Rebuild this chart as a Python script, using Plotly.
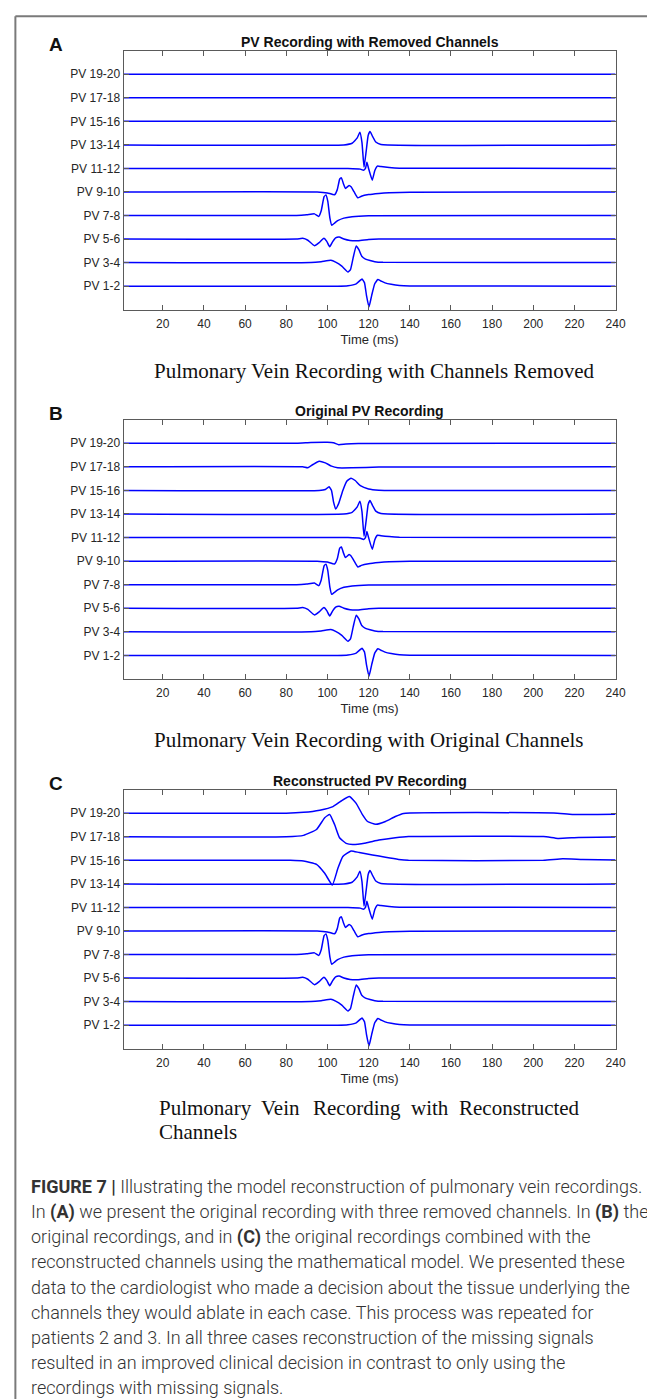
import plotly.graph_objects as go

# ---------------- data ----------------
CHANNELS = ["PV 1-2", "PV 3-4", "PV 5-6", "PV 7-8", "PV 9-10",
            "PV 11-12", "PV 13-14", "PV 15-16", "PV 17-18", "PV 19-20"]
X_TICKS = [20, 40, 60, 80, 100, 120, 140, 160, 180, 200, 220, 240]
PANEL_TITLES = ["PV Recording with Removed Channels",
                "Original PV Recording",
                "Reconstructed PV Recording"]
PANEL_LETTERS = ["A", "B", "C"]

# channels shared by all three panels: time (ms) and amplitude
pv12_t = [1, 105, 110, 114, 116.8, 118, 119, 120.2, 121.5, 123, 124.5, 126, 128, 131, 135, 140, 240]
pv12_a = [0, 0, 0.02, 0.1, 0.3, 0.15, -0.4, -0.88, -0.4, 0.1, 0.28, 0.22, 0.14, 0.08, 0.03, 0.01, 0]

pv34_t = [1, 92, 97, 101.7, 104, 107, 110, 111.2, 112.5, 114, 115.3, 116.7, 118.5, 120.7, 123, 127, 240]
pv34_a = [0, 0, 0.04, 0.1, 0.02, -0.15, -0.4, -0.3, 0.2, 0.71, 0.55, 0.27, 0.15, 0.09, 0.04, 0.01, 0]

pv56_t = [1, 85, 88, 90.5, 93.7, 96, 98.3, 99.7, 101.1, 102.5, 104, 105.7, 108, 111, 115, 120, 125, 240]
pv56_a = [0, 0, 0.03, -0.05, -0.28, -0.15, 0.03, -0.1, -0.33, -0.12, 0.05, 0.09, 0.0, -0.06, -0.07, -0.02, 0, 0]

pv78_t = [1, 85, 90, 93.7, 95.8, 97, 98.4, 99.3, 100.2, 101.2, 102.1, 103.5, 105, 108, 112, 120, 240]
pv78_a = [0, 0, 0.03, 0.07, -0.04, 0.2, 0.8, 0.87, 0.6, -0.1, -0.41, -0.32, -0.22, -0.11, -0.05, -0.01, 0]

pv910_t = [1, 95, 100, 103.5, 104.8, 106, 106.8, 107.8, 108.8, 110.5, 111.5, 113, 114.8, 116.5, 120, 125, 130, 140, 240]
pv910_a = [0, 0, -0.04, -0.12, 0.1, 0.55, 0.6, 0.35, 0.15, 0.28, 0.22, 0, -0.25, -0.18, -0.11, -0.06, -0.03, -0.01, 0]

pv1112_t = [1, 110, 116, 117.5, 118.5, 119.2, 120, 121.8, 123, 124.3, 126, 130, 135, 240]
pv1112_a = [0, 0, -0.03, -0.08, 0.0, 0.26, 0.0, -0.5, -0.1, 0.1, 0.08, 0.04, 0.01, 0]

pv1314_t = [1, 108, 112, 114.5, 115.8, 116.8, 117.8, 118.8, 119.8, 120.7, 122, 123.5, 126, 240]
pv1314_a = [0, 0, 0.07, 0.3, 0.54, 0.1, -0.95, -0.3, 0.4, 0.57, 0.35, 0.12, 0.02, 0]

# panel B: original recordings of the removed channels
pv1516_orig_t = [1, 96, 99, 100.8, 102, 103, 104, 105.5, 107.5, 109.5, 111.5, 113.5, 116, 120, 125, 240]
pv1516_orig_a = [0, 0, 0.04, 0.16, 0, -0.5, -0.79, -0.55, 0, 0.4, 0.52, 0.42, 0.2, 0.06, 0.01, 0]

pv1718_orig_t = [1, 88, 90.5, 93, 96, 99, 102, 105, 112, 125, 240]
pv1718_orig_a = [0, 0, -0.04, 0.1, 0.24, 0.17, 0.03, -0.04, -0.04, -0.01, 0]

pv1920_orig_t = [1, 85, 92, 100, 103, 105.5, 109, 115, 240]
pv1920_orig_a = [0, 0, 0.03, 0.04, 0.02, -0.06, -0.03, -0.01, 0]

# panel C: reconstructed channels
pv1516_rec_t = [1, 82, 88.4, 94.7, 98.7, 102.4, 105.1, 107.5, 111.5, 115.5, 121.9, 128.2, 134.6, 139.4, 205, 214.3, 224, 240]
pv1516_rec_a = [0, 0, -0.03, -0.17, -0.55, -1.05, -0.34, 0.16, 0.4, 0.33, 0.23, 0.13, 0.04, 0, 0, 0.07, 0.04, 0.01]

pv1718_rec_t = [1, 80, 88.4, 94.7, 98.7, 101.1, 103.5, 105.9, 109.1, 112.3, 118.7, 125, 133, 139.4, 205, 212, 222, 240]
pv1718_rec_a = [0, 0, 0.06, 0.31, 0.81, 0.95, 0.52, -0.04, -0.28, -0.33, -0.26, -0.14, -0.04, 0.01, 0.01, -0.07, -0.03, -0.01]

pv1920_rec_t = [1, 80, 88.4, 96.3, 102.7, 106.7, 110.7, 113.9, 117.1, 119.5, 123.5, 128.2, 133, 137, 210, 219, 240]
pv1920_rec_a = [0, 0, 0.04, 0.13, 0.28, 0.52, 0.71, 0.43, -0.07, -0.35, -0.47, -0.35, -0.14, -0.01, 0.01, -0.05, -0.04]

flat_t = [1, 240]
flat_a = [0, 0]

shared = [(pv12_t, pv12_a), (pv34_t, pv34_a), (pv56_t, pv56_a), (pv78_t, pv78_a),
          (pv910_t, pv910_a), (pv1112_t, pv1112_a), (pv1314_t, pv1314_a)]
panels = [
    shared + [(flat_t, flat_a)] * 3,
    shared + [(pv1516_orig_t, pv1516_orig_a), (pv1718_orig_t, pv1718_orig_a), (pv1920_orig_t, pv1920_orig_a)],
    shared + [(pv1516_rec_t, pv1516_rec_a), (pv1718_rec_t, pv1718_rec_a), (pv1920_rec_t, pv1920_rec_a)],
]

PANEL_CAPTIONS = ["Pulmonary Vein Recording with Channels Removed",
                  "Pulmonary Vein Recording with Original Channels",
                  "Pulmonary Vein Recording with Reconstructed Channels"]

FIG_CAPTION_LINES = [
    "<b>FIGURE 7 |</b> Illustrating the model reconstruction of pulmonary vein recordings.",
    "In <b>(A)</b> we present the original recording with three removed channels. In <b>(B)</b> the",
    "original recordings, and in <b>(C)</b> the original recordings combined with the",
    "reconstructed channels using the mathematical model. We presented these",
    "data to the cardiologist who made a decision about the tissue underlying the",
    "channels they would ablate in each case. This process was repeated for",
    "patients 2 and 3. In all three cases reconstruction of the missing signals",
    "resulted in an improved clinical decision in contrast to only using the",
    "recordings with missing signals.",
]

# ---------------- layout ----------------
W, H = 655, 1399


def X(px):
    return px / W


def Y(py):
    return 1 - py / H


PLOT_L, PLOT_R = 117.4, 617.0
PANEL_TOP = [42.7, 411.7, 781.7]
PANEL_BOT = [301.7, 671.0, 1040.7]

SANS = "Liberation Sans, Arial, sans-serif"
SERIF = "Liberation Serif, Times New Roman, serif"
AX_COL = "#5a5a5a"
TXT_COL = "#262626"

fig = go.Figure()
for p, chans in enumerate(panels):
    xa = "x" if p == 0 else f"x{p + 1}"
    ya = "y" if p == 0 else f"y{p + 1}"
    for k, (t, a) in enumerate(chans):
        fig.add_trace(go.Scatter(
            x=t, y=[k + 1 + v for v in a], mode="lines",
            line=dict(color="#0000ff", width=1.5, shape="spline", smoothing=0.4),
            xaxis=xa, yaxis=ya, showlegend=False, hoverinfo="skip"))

layout = dict(width=W, height=H, margin=dict(l=0, r=0, t=0, b=0),
              paper_bgcolor="white", plot_bgcolor="white", showlegend=False)
annotations = []
for p in range(3):
    xk = "xaxis" if p == 0 else f"xaxis{p + 1}"
    yk = "yaxis" if p == 0 else f"yaxis{p + 1}"
    ya = "y" if p == 0 else f"y{p + 1}"
    xa = "x" if p == 0 else f"x{p + 1}"
    layout[xk] = dict(domain=[X(PLOT_L), X(PLOT_R)], range=[1, 240], anchor=ya,
                      tickvals=X_TICKS, ticks="inside", ticklen=5, tickcolor=AX_COL,
                      showline=True, linecolor=AX_COL, linewidth=1, mirror="ticks",
                      showgrid=False, zeroline=False, ticklabelstandoff=3,
                      tickfont=dict(family=SANS, size=12, color=TXT_COL),
                      title=dict(text="Time (ms)", standoff=4,
                                 font=dict(family=SANS, size=13, color=TXT_COL)))
    layout[yk] = dict(domain=[Y(PANEL_BOT[p]), Y(PANEL_TOP[p])], range=[0, 11], anchor=xa,
                      tickvals=list(range(1, 11)), ticktext=CHANNELS,
                      ticks="inside", ticklen=5, tickcolor=AX_COL,
                      showline=True, linecolor=AX_COL, linewidth=1, mirror="ticks",
                      showgrid=False, zeroline=False,
                      tickfont=dict(family=SANS, size=12, color=TXT_COL))
    # panel title
    annotations.append(dict(text=f"<b>{PANEL_TITLES[p]}</b>", x=X((PLOT_L + PLOT_R) / 2),
                            y=Y(PANEL_TOP[p] - 8.4), xref="paper", yref="paper",
                            xanchor="center", yanchor="middle", showarrow=False,
                            font=dict(family=SANS, size=14, color="#111")))
    # panel letter
    annotations.append(dict(text=f"<b>{PANEL_LETTERS[p]}</b>", x=X(49), y=Y(PANEL_TOP[p] - 6.5),
                            xref="paper", yref="paper", xanchor="center", yanchor="middle",
                            showarrow=False, font=dict(family=SANS, size=19, color="#111")))

# serif captions under panels A and B
annotations.append(dict(text=PANEL_CAPTIONS[0], x=X(372), y=Y(362.7), xref="paper", yref="paper",
                        xanchor="center", yanchor="middle", showarrow=False,
                        font=dict(family=SERIF, size=21, color="#111")))
annotations.append(dict(text=PANEL_CAPTIONS[1], x=X(366), y=Y(731.7), xref="paper", yref="paper",
                        xanchor="center", yanchor="middle", showarrow=False,
                        font=dict(family=SERIF, size=21, color="#111")))
# justified caption under panel C
cap_words = PANEL_CAPTIONS[2].split(" ")
word_left = [151, 255, 307.6, 406.9, 456]
for w, xl in zip(cap_words[:5], word_left):
    annotations.append(dict(text=w, x=X(xl), y=Y(1100), xref="paper", yref="paper",
                            xanchor="left", yanchor="middle", showarrow=False,
                            font=dict(family=SERIF, size=21, color="#111")))
annotations.append(dict(text=cap_words[5], x=X(151), y=Y(1124), xref="paper", yref="paper",
                        xanchor="left", yanchor="middle", showarrow=False,
                        font=dict(family=SERIF, size=21, color="#111")))

# figure caption
for i, line in enumerate(FIG_CAPTION_LINES):
    annotations.append(dict(text=line, x=X(21.7), y=Y(1178.3 + 25.2 * i), xref="paper", yref="paper",
                            xanchor="left", yanchor="middle", showarrow=False,
                            font=dict(family="Roboto, Liberation Sans, sans-serif", size=18,
                                      color="#333333", weight=300)))

layout["annotations"] = annotations
layout["shapes"] = [
    dict(type="line", xref="paper", yref="paper", x0=X(7.5), x1=1, y0=Y(8.3), y1=Y(8.3),
         line=dict(color="#7a7a7a", width=2)),
    dict(type="line", xref="paper", yref="paper", x0=X(7.5), x1=X(7.5), y0=Y(8.3), y1=0,
         line=dict(color="#7a7a7a", width=2)),
]
fig.update_layout(**layout)
fig.write_html("out.html")
